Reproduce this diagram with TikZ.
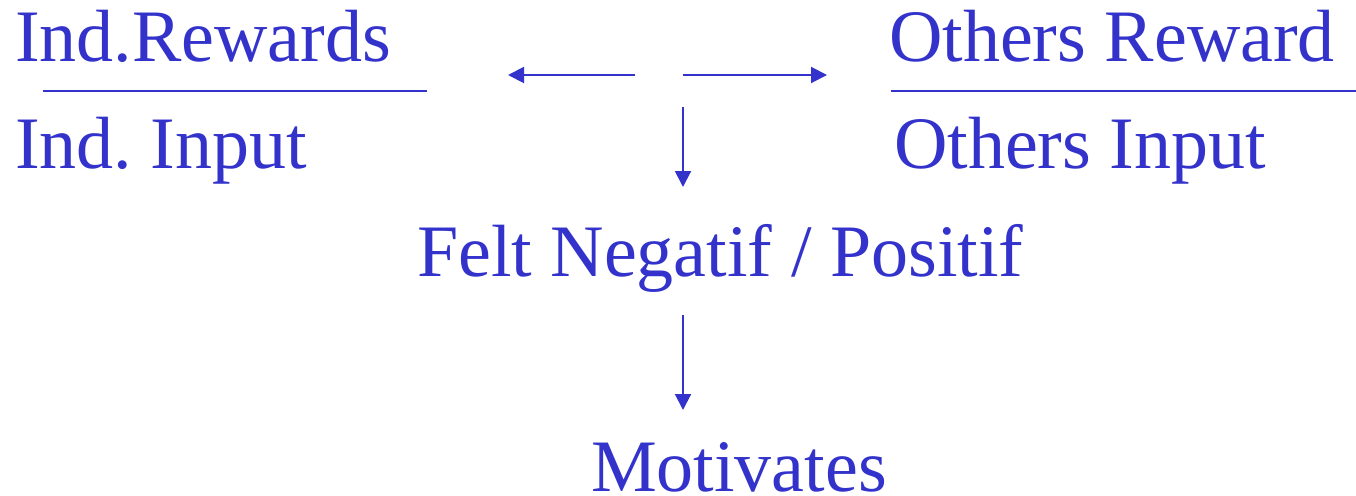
\documentclass[tikz,border=0pt]{standalone}
\usepackage{fontspec}
\setmainfont{Liberation Serif}
\usepackage{tikz}
\usetikzlibrary{positioning, calc, arrows.meta}
\definecolor{azul}{RGB}{51,51,204}
\frenchspacing

\begin{document}
\begin{tikzpicture}[x=1pt, y=1pt, line width=2pt, azul, seta/.style={-{Triangle[length=16pt, width=16pt]}}, texto/.style={inner sep=0pt, anchor=base west, text=azul, text depth=0pt, font=\fontsize{74}{80}\selectfont} ]
			\useasboundingbox (0,0) rectangle (1356,-495);
			%Razões:
			\node[texto]			(rewI) at (14,-62)		{Ind.Rewards};
			\node[texto]			(inpI) at (14,-168)		{Ind. Input};
			\node[texto]			(rewO) at (888,-62)		{Others Reward};
			\node[texto]			(inpO) at (893,-168)	{Others Input};
			\node[texto]			(felt) at (416,-276)	{Felt Negatif / Positif};
			\node[texto]			(motiv) at (590,-491)	{Motivates};
			
			%Pontos das setas e traços:
			\coordinate (fracIa) at (43,-90.5);
			\coordinate (fracIb) at (427,-90.5);
			\coordinate (fracOa) at (891,-90.5);
			\coordinate (fracOb) at (1356,-90.5);
			\coordinate (esqA) at (635,-75);
			\coordinate (esqB) at (508,-75);
			\coordinate (dirA) at (683,-75);
			\coordinate (dirB) at (827,-75);
			\coordinate (baixoA) at (683,-107);
			\coordinate (baixoB) at (683,-187);
			\coordinate (motA) at (683,-315);
			\coordinate (motB) at (683,-410);
			
			\draw (fracIa) -- (fracIb);
			\draw (fracOa) -- (fracOb);
			\path[seta] (esqA) edge (esqB)
			(dirA) edge (dirB)
			(baixoA) edge (baixoB)
			(motA) edge (motB);
		\end{tikzpicture}
\end{document}
